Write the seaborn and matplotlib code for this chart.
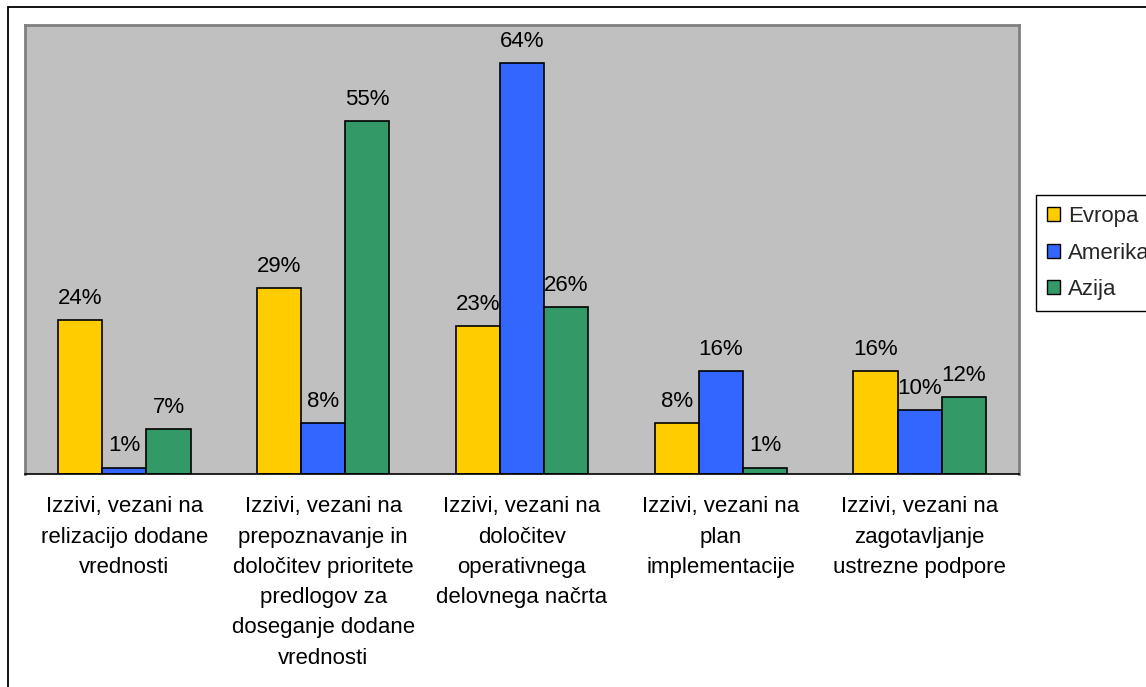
import matplotlib
matplotlib.use("Agg")
import matplotlib.pyplot as plt
import matplotlib.patches as mpatches
from matplotlib.ticker import FixedLocator
import seaborn as sns
import pandas as pd

categories = [
    "Izzivi, vezani na\nrelizacijo dodane\nvrednosti",
    "Izzivi, vezani na\nprepoznavanje in\ndoločitev prioritete\npredlogov za\ndoseganje dodane\nvrednosti",
    "Izzivi, vezani na\ndoločitev\noperativnega\ndelovnega načrta",
    "Izzivi, vezani na\nplan\nimplementacije",
    "Izzivi, vezani na\nzagotavljanje\nustrezne podpore",
]
regions = ["Evropa", "Amerika", "Azija"]
evropa = [24, 29, 23, 8, 16]
amerika = [1, 8, 64, 16, 10]
azija = [7, 55, 26, 1, 12]
colors = ["#FFCC00", "#3366FF", "#339966"]

rows = []
for name, vals in zip(regions, [evropa, amerika, azija]):
    for cat, v in zip(categories, vals):
        rows.append({"Kategorija": cat, "Regija": name, "Delež": v})
df = pd.DataFrame(rows)

sns.set_theme(style="white")
plt.rcParams["font.family"] = ["Liberation Sans", "DejaVu Sans"]

FS = 16
W, H = 1146, 687
fig = plt.figure(figsize=(W / 100, H / 100), dpi=100)
ax = fig.add_axes([25 / W, 1 - 474 / H, (1019 - 25) / W, (474 - 25) / H])
ax.set_facecolor("#C0C0C0")

sns.barplot(
    data=df, x="Kategorija", y="Delež", hue="Regija",
    hue_order=regions, palette=colors, width=0.667,
    edgecolor="black", linewidth=1.2, saturation=1, ax=ax, legend=False,
)

for cont in ax.containers:
    vals = [int(round(b.get_height())) for b in cont]
    ax.bar_label(cont, labels=[f"{v}%" for v in vals], padding=8,
                 fontsize=FS, color="black")

ax.set_xlim(-0.5, 4.5)
ax.set_ylim(0, 70)
ax.set_xlabel("")
ax.set_ylabel("")
ax.set_yticks([])
ax.tick_params(axis="x", which="major", length=0, pad=16, labelsize=FS)
ax.xaxis.set_minor_locator(FixedLocator([-0.5, 0.5, 1.5, 2.5, 3.5, 4.5]))
ax.tick_params(axis="x", which="minor", length=6, width=1.5, color="#808080")
for lab in ax.get_xticklabels():
    lab.set_ha("center")
    lab.set_va("top")
    lab.set_color("black")
    lab.set_linespacing(1.58)

for side in ["left", "top", "right"]:
    ax.spines[side].set_color("#808080")
    ax.spines[side].set_linewidth(2)
    ax.spines[side].set_visible(True)
ax.spines["bottom"].set_color("black")
ax.spines["bottom"].set_linewidth(1.2)

handles = [mpatches.Patch(facecolor=c, edgecolor="black", linewidth=1.0, label=r)
           for c, r in zip(colors, regions)]
leg = fig.legend(
    handles=handles, loc="upper left",
    bbox_to_anchor=(1036 / W, 1 - 195 / H), bbox_transform=fig.transFigure,
    fontsize=FS, frameon=True, fancybox=False, framealpha=1,
    edgecolor="black", handlelength=0.6, handleheight=0.6,
    handletextpad=0.35, labelspacing=0.7, borderpad=0.5, borderaxespad=0,
)
leg.get_frame().set_linewidth(1.0)

# outer chart border
fig.patches.append(mpatches.Rectangle(
    (8 / W, -0.05), 1.2, 1 - 7 / H + 0.05, transform=fig.transFigure,
    fill=False, edgecolor="black", linewidth=1.3, zorder=10))

fig.savefig("out.png", dpi=100)
